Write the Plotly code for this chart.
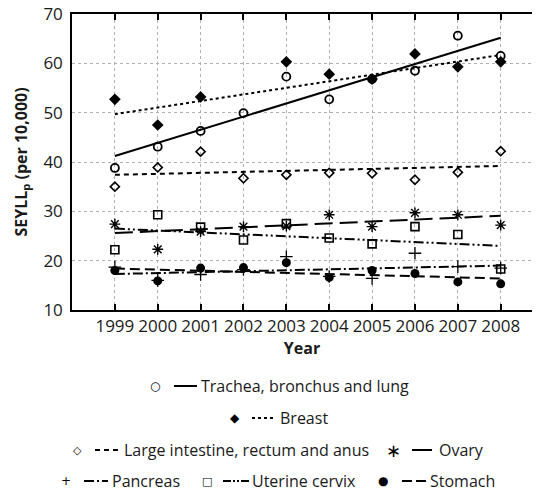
import plotly.graph_objects as go

years = [1999, 2000, 2001, 2002, 2003, 2004, 2005, 2006, 2007, 2008]

trachea = [38.8, 43.1, 46.3, 49.9, 57.3, 52.7, 56.8, 58.5, 65.6, 61.5]
breast = [52.7, 47.5, 53.2, None, 60.3, 57.8, 56.8, 61.9, 59.3, 60.3]
large_intestine = [35.0, 38.9, 42.1, 36.7, 37.4, 37.8, 37.7, 36.4, 37.9, 42.2]
ovary = [27.4, 22.3, 25.9, 26.9, 27.0, 29.3, 26.9, 29.7, 29.3, 27.2]
pancreas = [18.7, 16.0, 17.2, 18.2, 20.8, 16.8, 16.4, 21.5, 18.8, 18.5]
uterine_cervix = [22.2, 29.3, 26.8, 24.2, 27.5, 24.6, 23.4, 26.9, 25.3, 18.3]
stomach = [18.0, 15.9, 18.5, 18.6, 19.6, 16.6, 18.0, 17.4, 15.7, 15.3]

# Trend line end values (1999, 2008)
trend_years = [1999, 2008]
trachea_trend = [41.2, 65.2]
breast_trend = [49.7, 61.7]
large_intestine_trend = [37.4, 39.2]
ovary_trend = [25.6, 29.1]
pancreas_trend = [17.3, 19.0]
uterine_cervix_trend = [26.5, 23.0]
stomach_trend = [18.4, 16.4]

labels = ["Trachea, bronchus and lung", "Breast", "Large intestine, rectum and anus",
          "Ovary", "Pancreas", "Uterine cervix", "Stomach"]

FONT = "Open Sans"
BLACK = "#000000"
TXT = "#1a1a1a"

series = [
    (trachea, trachea_trend, dict(symbol="circle-open", size=8, color=BLACK, line=dict(width=1.8)), "solid"),
    (breast, breast_trend, dict(symbol="diamond", size=9, color=BLACK), "dot"),
    (large_intestine, large_intestine_trend, dict(symbol="diamond-open", size=7, color=BLACK, line=dict(width=1.6)), "5px,4px"),
    (ovary, ovary_trend, dict(symbol="asterisk-open", size=9, color=BLACK, line=dict(width=1.4)), "18px,7px"),
    (pancreas, pancreas_trend, dict(symbol="cross-thin-open", size=9, color=BLACK, line=dict(width=1.3)), "10px,3px,2px,3px"),
    (uterine_cervix, uterine_cervix_trend, dict(symbol="square-open", size=8, color=BLACK, line=dict(width=1.6)), "10px,3px,2px,3px,2px,3px"),
    (stomach, stomach_trend, dict(symbol="circle", size=9, color=BLACK), "10px,5px"),
]

fig = go.Figure()
for (vals, trend, mk, dash), name in zip(series, labels):
    fig.add_trace(go.Scatter(x=trend_years, y=trend, mode="lines",
                             line=dict(color=BLACK, width=2, dash=dash),
                             showlegend=False, hoverinfo="skip"))
    fig.add_trace(go.Scatter(x=years, y=vals, mode="markers", marker=mk,
                             name=name, showlegend=False))

W_FIG, H_FIG = 538, 493
# plot area in pixels
L, R, T, B = 72, 532, 14, 310


def px(x):
    return (x - L) / (R - L)


def py(y):
    return (B - y) / (B - T)


# manual legend: (marker glyph, marker x, line x0, line x1, dash, text x, row y, label, glyph size)
legend_items = [
    ("○", 155, 174, 197, "solid", 199, 386, labels[0], 12),
    ("◆", 235, 252, 273, "dot", 278, 418, labels[1], 12),
    ("◇", 77, 95, 121, "5px,4px", 122, 450, labels[2], 11),
    ("∗", 393, 412, 432, "solid", 437, 450, labels[3], 18),
    ("+", 66, 84, 108, "10px,3px,2px,3px", 110, 481, labels[4], 12),
    ("□", 207, 223, 250, "8px,2px,2px,2px,2px,2px", 250, 481, labels[5], 11),
    ("●", 383, 402, 427, "10px,4px", 428, 481, labels[6], 12),
]

annotations = []
shapes = []
for glyph, mx, lx0, lx1, dash, tx, ry, text, gsize in legend_items:
    annotations.append(dict(x=px(mx), y=py(ry), xref="paper", yref="paper", text=glyph,
                            showarrow=False, xanchor="center", yanchor="middle",
                            font=dict(family="DejaVu Sans", size=gsize, color=BLACK)))
    shapes.append(dict(type="line", xref="paper", yref="paper", x0=px(lx0), x1=px(lx1),
                       y0=py(ry), y1=py(ry), line=dict(color=BLACK, width=2, dash=dash)))
    annotations.append(dict(x=px(tx), y=py(ry), xref="paper", yref="paper", text=text,
                            showarrow=False, xanchor="left", yanchor="middle",
                            font=dict(family=FONT, size=16, color=TXT)))

fig.update_layout(
    width=W_FIG, height=H_FIG,
    margin=dict(l=L, r=W_FIG - R, t=T, b=H_FIG - B),
    paper_bgcolor="white", plot_bgcolor="white",
    font=dict(family=FONT, size=16, color=TXT),
    annotations=annotations, shapes=shapes,
    xaxis=dict(range=[1998, 2008.73], tickvals=years, ticktext=[str(y) for y in years],
               automargin=False,
               showline=True, linecolor=BLACK, linewidth=1.5, mirror="ticks",
               ticks="inside", ticklen=6, tickcolor=BLACK, tickwidth=1.5,
               showgrid=True, gridcolor="#b0b0b0", griddash="dot", gridwidth=1,
               zeroline=False, tickfont=dict(size=17),
               title=dict(text="<b>Year</b>", font=dict(size=16), standoff=4)),
    yaxis=dict(range=[10, 70], dtick=10, showline=True, linecolor=BLACK, linewidth=1.5,
               automargin=False, ticklabeloverflow="allow",
               ticks="", showgrid=True, gridcolor="#b0b0b0", griddash="dot", gridwidth=1,
               zeroline=False, tickfont=dict(size=17), ticklabelstandoff=4,
               title=dict(text="<b>SEYLL<sub>p</sub> (per 10,000)</b>", font=dict(size=16), standoff=12)),
)

fig.write_html("out.html", config={"displayModeBar": False},
               post_script="document.body.style.margin='0';")
